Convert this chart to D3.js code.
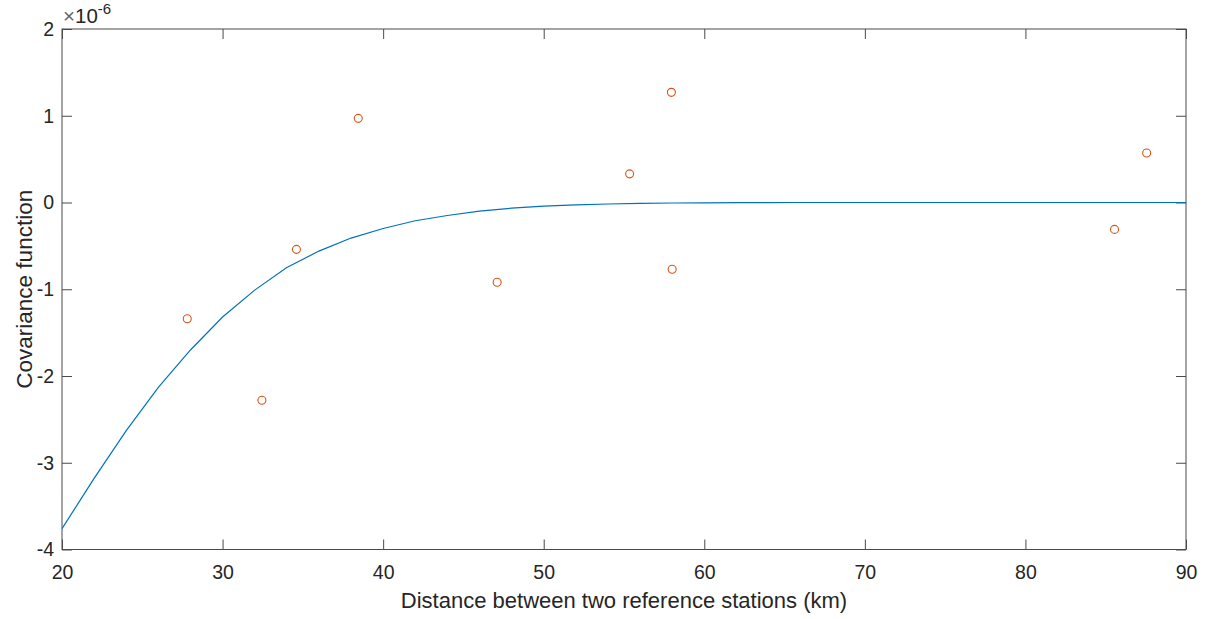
<!DOCTYPE html>
<html>
<head>
<meta charset="utf-8">
<script src="https://cdn.jsdelivr.net/npm/d3@7"></script>
<style>
body { margin:0; background:#fff; }
text { font-family: "Liberation Sans", Arial, Helvetica, sans-serif; fill:#262626; }
</style>
</head>
<body>
<svg id="chart"></svg>
<script>
// measured station pairs (distance km, covariance x1e-6)
var pairDist = [27.8, 32.45, 34.6, 38.45, 47.1, 55.35, 57.95, 58.0, 85.55, 87.55];
var pairCov = [-1.34, -2.28, -0.54, 0.97, -0.92, 0.33, 1.27, -0.77, -0.31, 0.57];

// fitted covariance curve, sampled every 2 km
var fitDist = [20,22,24,26,28,30,32,34,36,38,40,42,44,46,48,50,52,54,56,58,60,62,64,66,68,70,72,74,76,78,80,82,84,86,88,90];
var fitCov = [-3.76,-3.18,-2.63,-2.13,-1.70,-1.32,-1.01,-0.75,-0.56,-0.41,-0.30,-0.21,-0.15,-0.10,-0.065,-0.042,-0.027,-0.017,-0.010,-0.006,-0.004,-0.002,-0.001,0,0,0,0,0,0,0,0,0,0,0,0,0];

var xTicks = [20,30,40,50,60,70,80,90];
var yTicks = [-4,-3,-2,-1,0,1,2];

var screen = {width:1211, height:619};
var margin = {left:62, right:25, top:29, bottom:70};

var svg = d3.select("#chart")
    .attr("width", screen.width)
    .attr("height", screen.height);

var xscale = d3.scaleLinear()
    .domain([20,90])
    .range([margin.left, screen.width - margin.right]);
var yscale = d3.scaleLinear()
    .domain([-4,2])
    .range([screen.height - margin.bottom + 0.5, margin.top]);

svg.append("clipPath").attr("id","plotclip")
    .append("rect")
    .attr("x", xscale(20)).attr("y", yscale(2))
    .attr("width", xscale(90) - xscale(20))
    .attr("height", yscale(-4) - yscale(2));

var plainNum = function(d){ return String(d); }; // hyphen minus like matlab

// axes: bottom/left with labels, top/right ticks only (inward)
var axisColor = "#4a4a4a";
var styleAxis = function(g)
{
    g.select(".domain").remove();
    g.selectAll("line").attr("stroke", axisColor);
    g.selectAll("text")
        .style("font-size","19.5px")
        .attr("fill","#262626");
}

svg.append("g")
    .attr("transform","translate(0," + yscale(-4) + ")")
    .call(d3.axisBottom(xscale).tickValues(xTicks).tickSizeInner(-10).tickPadding(16).tickFormat(plainNum))
    .call(styleAxis);
svg.append("g")
    .attr("transform","translate(0," + yscale(2) + ")")
    .call(d3.axisTop(xscale).tickValues(xTicks).tickSizeInner(-10).tickFormat(""))
    .call(styleAxis);
svg.append("g")
    .attr("transform","translate(" + xscale(20) + ",0)")
    .call(d3.axisLeft(yscale).tickValues(yTicks).tickSizeInner(-10).tickPadding(8).tickFormat(plainNum))
    .call(styleAxis);
svg.append("g")
    .attr("transform","translate(" + xscale(90) + ",0)")
    .call(d3.axisRight(yscale).tickValues(yTicks).tickSizeInner(-10).tickFormat(""))
    .call(styleAxis);

// box
svg.append("rect")
    .attr("x", xscale(20)).attr("y", yscale(2))
    .attr("width", xscale(90) - xscale(20))
    .attr("height", yscale(-4) - yscale(2))
    .attr("fill","none")
    .attr("stroke", axisColor)
    .attr("stroke-width", 1);

// fitted line
var fitPoints = fitDist.map(function(d,i){ return {x:d, y:fitCov[i]}; });
var line = d3.line()
    .x(function(p){ return xscale(p.x); })
    .y(function(p){ return yscale(p.y); });
svg.append("path")
    .datum(fitPoints)
    .attr("d", line)
    .attr("fill","none")
    .attr("stroke","#0072BD")
    .attr("stroke-width",1.2)
    .attr("clip-path","url(#plotclip)");

// measured points
var pts = pairDist.map(function(d,i){ return {x:d, y:pairCov[i]}; });
svg.selectAll("circle.pt")
    .data(pts)
    .enter()
    .append("circle")
    .attr("class","pt")
    .attr("cx", function(p){ return xscale(p.x); })
    .attr("cy", function(p){ return yscale(p.y); })
    .attr("r", 4)
    .attr("fill","none")
    .attr("stroke","#D95319")
    .attr("stroke-width",1.1);

// exponent label
var expo = svg.append("text")
    .attr("x", xscale(20) + 1)
    .attr("y", 23)
    .style("font-size","20.5px");
expo.append("tspan").attr("fill","#666").text("\u00d7");
expo.append("tspan").text("10");
expo.append("tspan").attr("dy",-9).style("font-size","15px").text("-6");

// axis titles
svg.append("text")
    .attr("x", (xscale(20) + xscale(90)) / 2)
    .attr("y", 608)
    .attr("text-anchor","middle")
    .style("font-size","22px")
    .text("Distance between two reference stations (km)");

svg.append("text")
    .attr("transform","translate(32," + ((yscale(2) + yscale(-4)) / 2) + ") rotate(-90)")
    .attr("text-anchor","middle")
    .style("font-size","22.5px")
    .text("Covariance function");
</script>
</body>
</html>
